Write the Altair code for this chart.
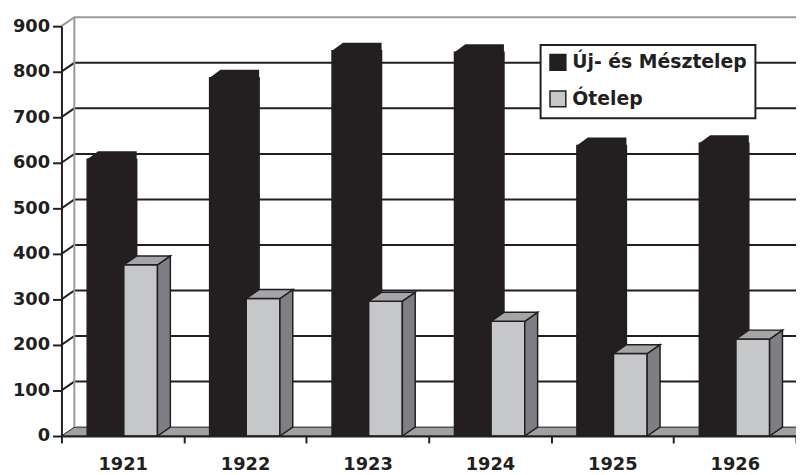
import altair as alt
import pandas as pd

# ---- data ----
years = ["1921", "1922", "1923", "1924", "1925", "1926"]
series_names = ["Új- és Mésztelep", "Ótelep"]
uj_mesztelep = [608, 787, 846, 843, 638, 643]
otelep = [376, 302, 296, 252, 181, 213]
y_ticks = [0, 100, 200, 300, 400, 500, 600, 700, 800, 900]
grid_vals = [100, 200, 300, 400, 500, 600, 700, 800]

# ---- styling / geometry constants (pixels -> data units) ----
W, H = 742, 414
NCAT = len(years)
YMAX = 900
CAT_PX = W / NCAT
VAL_PX = H / YMAX


def ux(p):
    return p / CAT_PX


def uv(p):
    return p / VAL_PX


DX, DY = ux(13), uv(9)            # depth of the 3D box
BL, BR = ux(26), ux(76)           # black bar front face within category
BDX, BDY = ux(11), uv(8)          # black bar top depth
GL, GR = ux(63), ux(97)           # grey bar front face within category

DARK = "#231f20"
BLACK_FILL = "#231f20"
GREY_FRONT = "#c6c7c9"
GREY_TOP = "#a4a5a8"
GREY_SIDE = "#7e7f82"
FLOOR = "#9fa0a2"
WALL = "#9a9a9a"
FONT = "DejaVu Sans"

xs = alt.Scale(domain=[0, NCAT], nice=False, zero=False)
ys = alt.Scale(domain=[0, YMAX], nice=False, zero=False)

# ---- tables ----
grid_rows = []
for g in grid_vals:
    grid_rows += [
        {"g": g, "o": 0, "x": 0, "y": g},
        {"g": g, "o": 1, "x": DX, "y": g + DY},
        {"g": g, "o": 2, "x": NCAT + DX, "y": g + DY},
    ]
grid_df = pd.DataFrame(grid_rows)

top_df = pd.DataFrame([
    {"o": 0, "x": 0, "y": YMAX},
    {"o": 1, "x": DX, "y": YMAX + DY},
    {"o": 2, "x": NCAT, "y": YMAX + DY},
])

floor_df = pd.DataFrame([
    {"x": 0, "y": 0, "y2": 0},
    {"x": DX, "y": 0, "y2": DY},
    {"x": NCAT, "y": 0, "y2": DY},
    {"x": NCAT + DX, "y": DY, "y2": DY},
])

wall_df = pd.DataFrame([{"x": DX, "y": DY, "y2": YMAX + DY}])

front_rows = []
for i, yr in enumerate(years):
    front_rows.append({"year": yr, "series": series_names[0], "x": i + BL, "x2": i + BR, "y": uj_mesztelep[i]})
    front_rows.append({"year": yr, "series": series_names[1], "x": i + GL, "x2": i + GR, "y": otelep[i]})
front_df = pd.DataFrame(front_rows)

btop_rows, gside_rows, gtop_rows = [], [], []
for i, yr in enumerate(years):
    v = uj_mesztelep[i]
    btop_rows += [
        {"year": yr, "x": i + BL, "y": v, "y2": v},
        {"year": yr, "x": i + BL + BDX, "y": v, "y2": v + BDY},
        {"year": yr, "x": i + BR, "y": v, "y2": v + BDY},
    ]
    g = otelep[i]
    gside_rows += [
        {"year": yr, "x": i + GR, "y": 0, "y2": g},
        {"year": yr, "x": i + GR + DX, "y": DY, "y2": g + DY},
    ]
    gtop_rows += [
        {"year": yr, "x": i + GL, "y": g, "y2": g},
        {"year": yr, "x": i + GL + DX, "y": g, "y2": g + DY},
        {"year": yr, "x": i + GR, "y": g, "y2": g + DY},
        {"year": yr, "x": i + GR + DX, "y": g + DY, "y2": g + DY},
    ]
btop_df = pd.DataFrame(btop_rows)
gside_df = pd.DataFrame(gside_rows)
gtop_df = pd.DataFrame(gtop_rows)

# ---- axes ----
label_list = "[" + ",".join("'%s'" % y for y in years) + ",'']"
x_axis = alt.Axis(
    values=list(range(NCAT + 1)),
    labelExpr=label_list + "[datum.value]",
    labelOffset=CAT_PX / 2,
    labelOverlap=False, labelBound=False, labelFlush=False,
    labelFont=FONT, labelFontSize=18, labelFontWeight="bold", labelColor=DARK,
    labelPadding=13, tickSize=7, tickWidth=2, tickColor=DARK,
    domainColor=DARK, domainWidth=2, grid=False, title=None, zindex=1,
)
y_axis = alt.Axis(
    values=y_ticks,
    labelFont=FONT, labelFontSize=18, labelFontWeight="bold", labelColor=DARK,
    labelPadding=3, tickSize=9, tickWidth=2, tickColor=DARK,
    domainColor=DARK, domainWidth=2, grid=False, title=None, zindex=1,
)


def X():
    return alt.X("x:Q", scale=xs, axis=x_axis, title=None)


def Y():
    return alt.Y("y:Q", scale=ys, axis=y_axis, title=None, stack=None)


grid = alt.Chart(grid_df).mark_line(color=DARK, strokeWidth=2, clip=True).encode(
    x=X(), y=Y(), detail="g:N", order="o:Q")

top = alt.Chart(top_df).mark_line(color=WALL, strokeWidth=2).encode(
    x=X(), y=Y(), order="o:Q")

wall = alt.Chart(wall_df).mark_rule(color=WALL, strokeWidth=2).encode(
    x=X(), y=Y(), y2="y2:Q")

floor = alt.Chart(floor_df).mark_area(
    fill=FLOOR, stroke=DARK, strokeWidth=1, opacity=1, clip=True, orient="vertical"
).encode(x=X(), y=Y(), y2="y2:Q")

front = alt.Chart(front_df).mark_rect(stroke=DARK, strokeWidth=1.5).encode(
    x=X(),
    x2="x2:Q",
    y=Y(),
    y2=alt.datum(0),
    color=alt.Color(
        "series:N",
        scale=alt.Scale(domain=series_names, range=[BLACK_FILL, GREY_FRONT]),
        legend=alt.Legend(
            title=None, orient="none", legendX=484, legendY=19, direction="vertical",
            symbolType="square", symbolSize=256, symbolStrokeColor=DARK, symbolStrokeWidth=1.5,
            labelFont=FONT, labelFontSize=19, labelFontWeight="bold", labelColor=DARK,
            labelOffset=5, rowPadding=14, padding=8, fillColor="white", labelLimit=400,
        ),
    ),
)

btop = alt.Chart(btop_df).mark_area(fill=BLACK_FILL, opacity=1, orient="vertical").encode(
    x=X(), y=Y(), y2="y2:Q", detail="year:N")

gside = alt.Chart(gside_df).mark_area(
    fill=GREY_SIDE, stroke=DARK, strokeWidth=1.5, opacity=1, orient="vertical", clip=True
).encode(x=X(), y=Y(), y2="y2:Q", detail="year:N")

gtop = alt.Chart(gtop_df).mark_area(
    fill=GREY_TOP, stroke=DARK, strokeWidth=1.5, opacity=1, orient="vertical", clip=True
).encode(x=X(), y=Y(), y2="y2:Q", detail="year:N")

chart = alt.layer(grid, floor, wall, top, btop, front, gside, gtop).properties(
    width=W, height=H,
    autosize=alt.AutoSizeParams(type="none"),
    padding={"left": 54, "top": 16, "right": 0, "bottom": 37},
    background="white",
).configure_view(stroke=None).configure_legend(strokeColor=DARK, strokeWidth=2)

chart.save("out.html", embed_options={"renderer": "svg", "actions": False})
